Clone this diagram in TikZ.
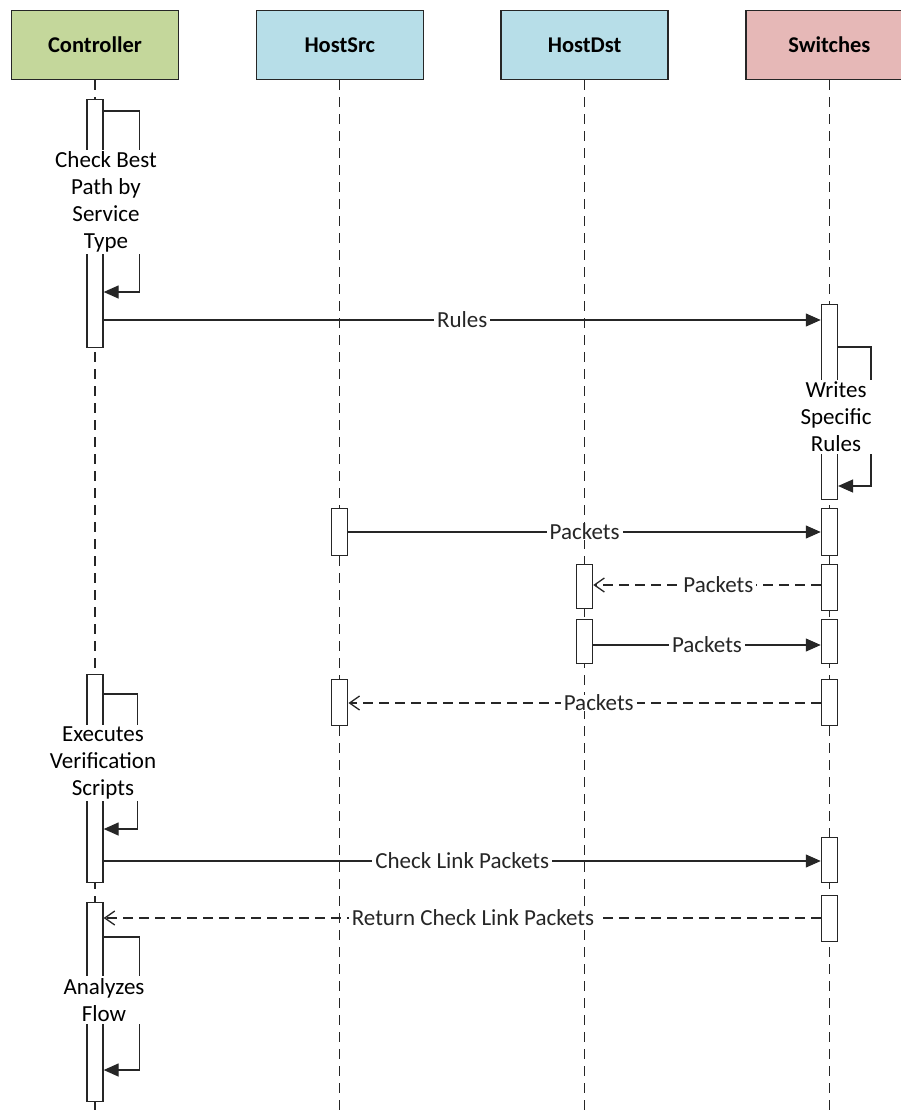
\documentclass[tikz,border=0pt]{standalone}
\usepackage{fontspec}
\setmainfont{Carlito}
\definecolor{ctrlvert}{RGB}{196,215,155}
\definecolor{hotebleu}{RGB}{183,222,232}
\definecolor{switchrose}{RGB}{230,184,183}
\definecolor{trait}{RGB}{38,38,38}
\usetikzlibrary{positioning,arrows.meta}

\begin{document}
\begin{tikzpicture}[x=1pt, y=-1pt,
    every node/.style={font=\fontsize{23}{27}\selectfont},
    entete/.style={draw=trait, line width=1.5pt, minimum width=167pt,
                   minimum height=69pt, font=\fontsize{22.5}{27}\selectfont\bfseries},
    vie/.style={trait, line width=1.3pt, dash pattern=on 10pt off 7pt},
    activ/.style={draw=trait, fill=white, line width=1.3pt, anchor=north,
                  minimum width=16pt, minimum height=#1, inner sep=0pt},
    appel/.style={trait, line width=1.3pt, -{Triangle[length=15pt,width=13pt]}},
    retour/.style={trait, line width=1.3pt, dash pattern=on 10pt off 6pt,
                   -{Straight Barb[length=10pt,width=14pt]}},
    etiq/.style={fill=white, inner xsep=3pt, inner ysep=0pt},
    note/.style={fill=white, align=center, inner sep=2pt}]
  % Cadre de la page (la boite Switches depasse a droite)
  \clip (0,0) rectangle (901,1117);
  \coordinate (bas) at (0,1117);
  % En-tetes des quatre acteurs
  \node[entete, fill=ctrlvert] (ctrl) at (95,45) {Controller};
  \node[entete, fill=hotebleu, right=76.3pt of ctrl] (src) {HostSrc};
  \node[entete, fill=hotebleu, right=76.3pt of src] (dst) {HostDst};
  \node[entete, fill=switchrose, right=76.3pt of dst] (sw) {Switches};
  % Lignes de vie
  \foreach \acteur in {ctrl,src,dst,sw}
    \draw[vie] (\acteur.south) -- (\acteur.south |- bas);
  % Barres d'activation
  \node[activ=248] (cA1) at (ctrl.south |- 0,99) {};
  \node[activ=208] (cA2) at (ctrl.south |- 0,674) {};
  \node[activ=199] (cA3) at (ctrl.south |- 0,902) {};
  \node[activ=47] (sA1) at (src.south |- 0,508) {};
  \node[activ=46] (sA2) at (src.south |- 0,679) {};
  \node[activ=44] (dA1) at (dst.south |- 0,564) {};
  \node[activ=44] (dA2) at (dst.south |- 0,619) {};
  \node[activ=195] (wA1) at (sw.south |- 0,304) {};
  \node[activ=47] (wA2) at (sw.south |- 0,508) {};
  \node[activ=46] (wA3) at (sw.south |- 0,564) {};
  \node[activ=44] (wA4) at (sw.south |- 0,619) {};
  \node[activ=46] (wA5) at (sw.south |- 0,679) {};
  \node[activ=45] (wA6) at (sw.south |- 0,837) {};
  \node[activ=46] (wA7) at (sw.south |- 0,895) {};
  % Messages
  \draw[appel] (cA1.east |- 0,320) -- node[etiq] {Rules} (wA1.west |- 0,320);
  \draw[appel] (sA1.east |- 0,532) -- node[etiq] {Packets} (wA2.west |- 0,532);
  \draw[retour] (wA3.west |- 0,585) -- node[etiq, pos=0.45] {Packets} (dA1.east |- 0,585);
  \draw[appel] (dA2.east |- 0,645) -- node[etiq] {Packets} (wA4.west |- 0,645);
  \draw[retour] (wA5.west |- 0,703) -- node[etiq, pos=0.47] {Packets} (sA2.east |- 0,703);
  \draw[appel] (cA2.east |- 0,861) -- node[etiq] {Check Link Packets} (wA6.west |- 0,861);
  \draw[retour] (wA7.west |- 0,918) -- node[etiq, pos=0.485] {Return Check Link Packets} (cA3.east |- 0,918);
  % Boucles sur soi-meme, texte par-dessus
  \draw[appel] (cA1.east |- 0,111) -- ++(36,0) |- (cA1.east |- 0,292);
  \node[note] (n1) at (106,202) {Check Best\\Path by\\Service\\Type};
  \draw[appel] (wA1.east |- 0,347) -- ++(33,0) |- (wA1.east |- 0,486);
  \node[note] (n2) at (836,417) {Writes\\Specific\\Rules};
  \draw[appel] (cA2.east |- 0,694) -- ++(34,0) |- (cA2.east |- 0,829);
  \node[note] (n3) at (103,763) {Executes\\Verification\\Scripts};
  \draw[appel] (cA3.east |- 0,937) -- ++(36,0) |- (cA3.east |- 0,1070);
  \node[note] (n4) at (104,1000) {Analyzes\\Flow};
\end{tikzpicture}
\end{document}
